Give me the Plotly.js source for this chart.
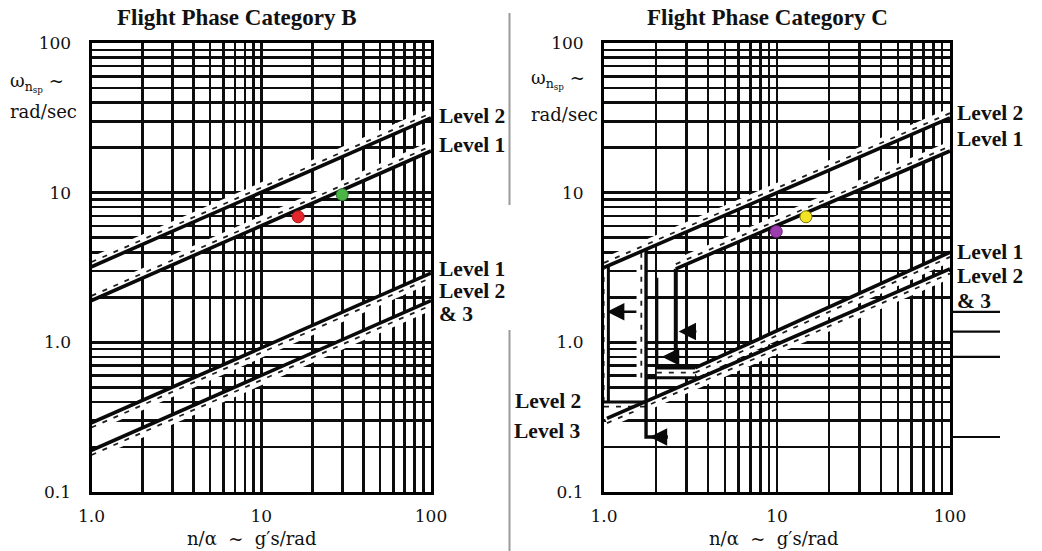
<!DOCTYPE html>
<html>
<head>
<meta charset="utf-8">
<script src="https://cdn.plot.ly/plotly-3.0.1.min.js"></script>
<style>html,body{margin:0;padding:0;background:#fff;}</style>
</head>
<body>
<div id="chart" style="width:1042px;height:551px;"></div>
<script>
// ---- grid / tick values (log-log chart paper) ----
const X_GRID = [1,2,3,4,5,6,7,8,9,10,20,30,40,50,60,70,80,90,100];
const X_TEXT = ['1.0','','','','','','','','','10','','','','','','','','','100'];
const Y_GRID = [0.1,0.2,0.3,0.4,0.5,0.6,0.7,0.8,0.9,1,2,3,4,5,6,7,8,9,10,20,30,40,50,60,70,80,90,100];
const Y_TEXT = ['0.1','','','','','','','','','1.0','','','','','','','','','10','','','','','','','','','100'];

// ---- Category B boundaries: n/alpha (g's/rad) vs omega_nsp (rad/sec) ----
const B_NA      = [1, 100];
const B_L2_UP   = [3.2, 31.6];
const B_L1_UP   = [1.9, 19];
const B_L1_LO   = [0.29, 2.9];
const B_L23_LO  = [0.19, 1.9];

// ---- Category C boundaries ----
const C_L2_UP_NA  = [1, 100];
const C_L2_UP     = [3.16, 31.6];
const C_L1_UP_NA  = [2.6, 100];
const C_L1_UP     = [3.1, 19];
const C_L1_LO_NA  = [3.36, 100];
const C_L1_LO     = [0.674, 4.0];
const C_L23_LO_NA = [1.04, 100];
const C_L23_LO    = [0.31, 3.1];
const C_EDGE_NA   = [1.06, 1.06];
const C_EDGE      = [0.40, 3.2];
const C_L2_BASE_NA = [1.0, 1.75];
const C_L2_BASE    = [0.40, 0.40];
const C_V1_NA     = [1.75, 1.75, 2.34];
const C_V1        = [4.16, 0.233, 0.233];
const C_V1_H_NA   = [1.75, 1.75];
const C_V1_H      = [0.58, 4.16];
const C_L2_FLOOR_NA = [1.75, 3.64];
const C_L2_FLOOR    = [0.58, 0.58];
const C_V2_NA     = [2.02, 2.02, 3.36];
const C_V2        = [2.7, 0.674, 0.674];
const C_L1_FLOOR_NA = [2.02, 3.36];
const C_L1_FLOOR    = [0.674, 0.674];
const C_V3_NA     = [2.6, 2.6];
const C_V3        = [0.785, 3.1];

// minimum-frequency pointers (arrow tip n/alpha, tail n/alpha, omega)
const C_ARROW_TIP  = [1.04, 2.7, 2.16, 1.84];
const C_ARROW_TAIL = [1.57, 3.49, 2.82, 2.34];
const C_ARROW_W    = [1.6, 1.18, 0.80, 0.233];
const C_REF_W      = [1.6, 1.18, 0.80, 0.233];

// ---- flight test points ----
const B_PTS_NA = [16.5, 30];
const B_PTS_W  = [6.9, 9.7];
const B_PTS_C  = ['#e3262b', '#4cb548'];
const C_PTS_NA = [9.9, 14.7];
const C_PTS_W  = [5.5, 6.9];
const C_PTS_C  = ['#9c3dae', '#f2e424'];
const C_PTS_L  = ['#6a1f78', '#7a7400'];

// ---- hatch band helpers ----
const SHIFT_Y = 1.075, SHIFT_X = 1.065;
function shifted(xs, ys, side) {
  if (side === 'up')   return [xs, ys.map(v => v * SHIFT_Y)];
  if (side === 'down') return [xs, ys.map(v => v / SHIFT_Y)];
  if (side === 'left') return [xs.map(v => v / SHIFT_X), ys];
  return [xs, ys];
}
const bands = [], lines = [], marks = [];
function hatched(xs, ys, side, xa, ya) {
  const [hx, hy] = shifted(xs, ys, side);
  bands.push({x: hx, y: hy, xaxis: xa, yaxis: ya, mode: 'lines', hoverinfo: 'skip',
    line: {color: '#ffffff', width: 9.5}});
  bands.push({x: hx, y: hy, xaxis: xa, yaxis: ya, mode: 'lines', hoverinfo: 'skip',
    line: {color: '#1e1e1e', width: 1.8, dash: '5px,7px'}});
}
function boundary(xs, ys, xa, ya, w) {
  lines.push({x: xs, y: ys, xaxis: xa, yaxis: ya, mode: 'lines', hoverinfo: 'skip',
    line: {color: '#0a0a0a', width: w || 3.6}});
}

// Category B
hatched(B_NA, B_L2_UP, 'up', 'x', 'y');
hatched(B_NA, B_L1_UP, 'up', 'x', 'y');
hatched(B_NA, B_L1_LO, 'down', 'x', 'y');
hatched(B_NA, B_L23_LO, 'down', 'x', 'y');
boundary(B_NA, B_L2_UP, 'x', 'y');
boundary(B_NA, B_L1_UP, 'x', 'y');
boundary(B_NA, B_L1_LO, 'x', 'y');
boundary(B_NA, B_L23_LO, 'x', 'y');

// Category C
hatched(C_L2_UP_NA, C_L2_UP, 'up', 'x2', 'y2');
hatched(C_L1_UP_NA, C_L1_UP, 'up', 'x2', 'y2');
hatched(C_L1_LO_NA, C_L1_LO, 'down', 'x2', 'y2');
hatched(C_L23_LO_NA, C_L23_LO, 'down', 'x2', 'y2');
hatched(C_EDGE_NA, C_EDGE, 'left', 'x2', 'y2');
hatched(C_L2_BASE_NA, C_L2_BASE, 'down', 'x2', 'y2');
hatched(C_V1_H_NA, C_V1_H, 'left', 'x2', 'y2');
hatched(C_L1_FLOOR_NA, C_L1_FLOOR, 'down', 'x2', 'y2');
boundary(C_L2_UP_NA, C_L2_UP, 'x2', 'y2');
boundary(C_L1_UP_NA, C_L1_UP, 'x2', 'y2');
boundary(C_L1_LO_NA, C_L1_LO, 'x2', 'y2');
boundary(C_L23_LO_NA, C_L23_LO, 'x2', 'y2');
boundary(C_EDGE_NA, C_EDGE, 'x2', 'y2', 3);
boundary(C_L2_BASE_NA, C_L2_BASE, 'x2', 'y2', 3);
boundary(C_V1_NA, C_V1, 'x2', 'y2', 3.4);
boundary(C_L2_FLOOR_NA, C_L2_FLOOR, 'x2', 'y2', 3);
boundary(C_V2_NA, C_V2, 'x2', 'y2', 3);
boundary(C_V3_NA, C_V3, 'x2', 'y2', 4);

// reference ticks continuing past the right frame of Category C
const refX = [], refY = [];
C_REF_W.forEach(w => { refX.push(0, 1, null); refY.push(w, w, null); });
lines.push({x: refX, y: refY, xaxis: 'x3', yaxis: 'y3', mode: 'lines', hoverinfo: 'skip',
  line: {color: '#0a0a0a', width: 2.2}});

// test points
marks.push({x: B_PTS_NA, y: B_PTS_W, xaxis: 'x', yaxis: 'y', mode: 'markers', hoverinfo: 'x+y',
  marker: {size: 12, color: B_PTS_C, line: {color: ['#a81a1d', '#2f7d2c'], width: 1}}});
marks.push({x: C_PTS_NA, y: C_PTS_W, xaxis: 'x2', yaxis: 'y2', mode: 'markers', hoverinfo: 'x+y',
  marker: {size: 12, color: C_PTS_C, line: {color: C_PTS_L, width: 1}}});

const W = 1042, H = 551;
const px = v => v / W, py = v => 1 - v / H;
const Y_DOM = [py(492), py(43)];

const serif = 'DejaVu Serif, serif';
const bold = 'Liberation Serif, Times New Roman, serif';

function gridAxis(domain, anchor, vals, text, standoff) {
  return {
    type: 'log', domain: domain, anchor: anchor,
    tickmode: 'array', tickvals: vals, ticktext: text,
    showgrid: true, gridcolor: '#0d0d0d', gridwidth: 2.6,
    zeroline: false, ticks: '', showline: true, mirror: true,
    linecolor: '#000', linewidth: 3,
    tickfont: {family: serif, size: 17, color: '#111'},
    ticklabelstandoff: standoff, fixedrange: true
  };
}

const layout = {
  width: W, height: H,
  margin: {l: 0, r: 0, t: 0, b: 0},
  paper_bgcolor: '#fff', plot_bgcolor: '#fff',
  showlegend: false,
  xaxis:  Object.assign(gridAxis([px(91.5), px(431)], 'y', X_GRID, X_TEXT, 7), {range: [0, 2]}),
  yaxis:  Object.assign(gridAxis(Y_DOM, 'x', Y_GRID, Y_TEXT, 14), {range: [-1, 2]}),
  xaxis2: Object.assign(gridAxis([px(604), px(950)], 'y2', X_GRID, X_TEXT, 7), {range: [0, 2]}),
  yaxis2: Object.assign(gridAxis(Y_DOM, 'x2', Y_GRID, Y_TEXT, 14), {range: [-1, 2]}),
  xaxis3: {domain: [px(950), px(1000)], anchor: 'y3', range: [0, 1], visible: false, fixedrange: true},
  yaxis3: {domain: Y_DOM, anchor: 'x3', type: 'log', range: [-1, 2], visible: false, fixedrange: true},
  shapes: [
    {type: 'line', xref: 'paper', yref: 'paper', x0: px(509.5), x1: px(509.5), y0: py(13), y1: py(205),
     line: {color: '#9a9a9a', width: 2}},
    {type: 'line', xref: 'paper', yref: 'paper', x0: px(509.5), x1: px(509.5), y0: py(330), y1: py(551),
     line: {color: '#9a9a9a', width: 2}}
  ],
  annotations: []
};

const ann = layout.annotations;
function label(text, x, y, opts) {
  ann.push(Object.assign({text: text, xref: 'paper', yref: 'paper', x: px(x), y: py(y),
    showarrow: false, xanchor: 'left', yanchor: 'middle',
    font: {family: bold, size: 21.5, color: '#111'}}, opts || {}));
}

// panel titles
label('<b>Flight Phase Category B</b>', 237, 17, {xanchor: 'center', font: {family: bold, size: 23, color: '#111'}});
label('<b>Flight Phase Category C</b>', 767, 18, {xanchor: 'center', font: {family: bold, size: 23, color: '#111'}});

// vertical axis captions
const axisFont = {family: serif, size: 18, color: '#111'};
label('ω<sub>n<sub>sp</sub></sub> ~', 8, 82, {font: axisFont});
label('rad/sec', 8, 112, {font: axisFont});
label('ω<sub>n<sub>sp</sub></sub> ~', 529, 80, {font: axisFont});
label('rad/sec', 529, 115, {font: axisFont});

// horizontal axis captions
const xCap = 'n/α\u00a0\u00a0~\u00a0\u00a0g′s/rad';
label(xCap, 252, 538, {xanchor: 'center', font: axisFont});
label(xCap, 774, 538, {xanchor: 'center', font: axisFont});

// boundary labels
const lvl = s => '<b>' + s + '</b>';
label(lvl('Level 2'), 437, 116);
label(lvl('Level 1'), 437, 145);
label(lvl('Level 1'), 437, 269);
label(lvl('Level 2'), 437, 291);
label(lvl('&amp; 3'), 437, 314);
label(lvl('Level 2'), 955, 113);
label(lvl('Level 1'), 955, 139);
label(lvl('Level 1'), 955, 252);
label(lvl('Level 2'), 955, 276);
label(lvl('&amp; 3'), 955, 301);
label(lvl('Level 2'), 583, 401, {xanchor: 'right'});
label(lvl('Level 3'), 583, 431, {xanchor: 'right'});

// minimum-frequency arrows (annotation coordinates on log axes are log10 values)
C_ARROW_W.forEach((w, i) => {
  ann.push({xref: 'x2', yref: 'y2', axref: 'x2', ayref: 'y2',
    x: Math.log10(C_ARROW_TIP[i]), y: Math.log10(w),
    ax: Math.log10(C_ARROW_TAIL[i]), ay: Math.log10(w),
    text: '', showarrow: true, arrowhead: 2, arrowsize: 1.45, arrowwidth: 2.4, arrowcolor: '#0a0a0a'});
});

Plotly.newPlot('chart', bands.concat(lines, marks), layout, {staticPlot: true, displayModeBar: false});
</script>
</body>
</html>
